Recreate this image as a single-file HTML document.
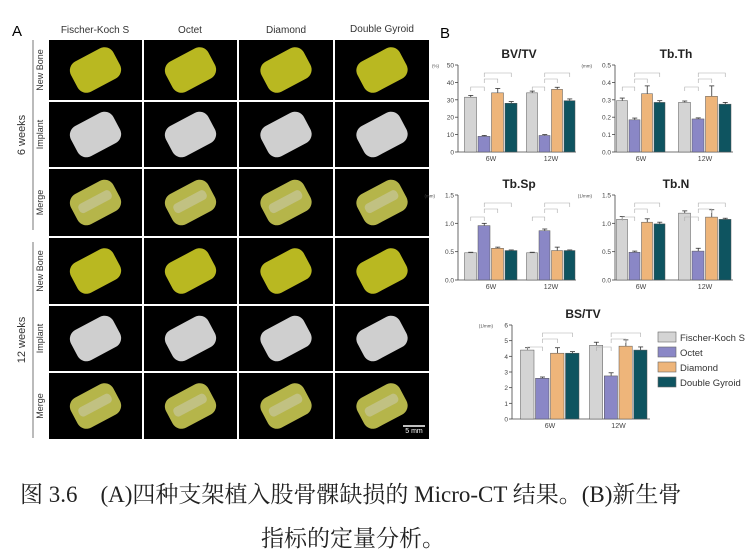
<!DOCTYPE html>
<html><head><meta charset="utf-8"><style>
body{margin:0;background:#fff;width:755px;height:560px;overflow:hidden}
svg{display:block;font-family:"Liberation Sans",Arial,sans-serif}
.cap{position:absolute;font-family:"Liberation Serif","Noto Serif CJK SC",serif;font-size:23px;color:#222;white-space:nowrap}
</style></head><body>
<svg id="s" width="755" height="560" xmlns="http://www.w3.org/2000/svg">
<text x="12" y="36" font-size="15">A</text>
<text x="440" y="38" font-size="15">B</text>
<text x="95" y="33" font-size="10" text-anchor="middle" fill="#333">Fischer-Koch S</text>
<text x="190" y="33" font-size="10" text-anchor="middle" fill="#333">Octet</text>
<text x="286" y="33" font-size="10" text-anchor="middle" fill="#333">Diamond</text>
<text x="382" y="32" font-size="10" text-anchor="middle" fill="#333">Double Gyroid</text>
<line x1="33" y1="40" x2="33" y2="230" stroke="#777"/>
<line x1="33" y1="242" x2="33" y2="438" stroke="#777"/>
<text transform="translate(25,135) rotate(-90)" font-size="11" text-anchor="middle" fill="#333">6 weeks</text>
<text transform="translate(25,340) rotate(-90)" font-size="11" text-anchor="middle" fill="#333">12 weeks</text>
<g id="grid"></g>
<text x="414" y="433" font-size="7" fill="#fff" text-anchor="middle">5 mm</text>
<line x1="403" y1="426" x2="425" y2="426" stroke="#fff" stroke-width="1.5"/>
<g id="charts"></g>
<g font-size="9.5" fill="#333">
<rect x="658" y="332" width="18" height="10" fill="#d4d4d4" stroke="#666" stroke-width=".6"/><text x="680" y="341">Fischer-Koch S</text>
<rect x="658" y="347" width="18" height="10" fill="#8a87c6" stroke="#666" stroke-width=".6"/><text x="680" y="356">Octet</text>
<rect x="658" y="362" width="18" height="10" fill="#eeb57a" stroke="#666" stroke-width=".6"/><text x="680" y="371">Diamond</text>
<rect x="658" y="377" width="18" height="10" fill="#0e5460" stroke="#666" stroke-width=".6"/><text x="680" y="386">Double Gyroid</text>
</g>
</svg>
<div class="cap" style="left:20px;top:476px">图 3.6&nbsp;&nbsp;&nbsp;&nbsp;(A)四种支架植入股骨髁缺损的 Micro-CT 结果。(B)新生骨</div>
<div class="cap" style="left:261px;top:520px">指标的定量分析。</div>
<script>
const NS="http://www.w3.org/2000/svg";
function el(p,t,a,txt){const e=document.createElementNS(NS,t);for(const k in a)e.setAttribute(k,a[k]);if(txt!==undefined)e.textContent=txt;p.appendChild(e);return e;}
const g=document.getElementById("grid");
const cx=[48,143,238,334,430], ry=[39,101,168,237,305,372,440];
const rowL=["New Bone","Implant","Merge","New Bone","Implant","Merge"];
const fills=["#b9b821","#cfcfcf","#b5b54a"];
for(let r=0;r<6;r++){
  el(g,"text",{transform:`translate(43,${(ry[r]+ry[r+1])/2}) rotate(-90)`,"font-size":9,"text-anchor":"middle",fill:"#333"},rowL[r]);
  for(let c=0;c<4;c++){
    const x=cx[c]+1,y=ry[r]+1,w=cx[c+1]-cx[c]-2,h=ry[r+1]-ry[r]-2;
    el(g,"rect",{x,y,width:w,height:h,fill:"#000"});
    const mx=x+w/2,my=y+h/2;
    el(g,"rect",{x:mx-24,y:my-17,width:48,height:34,rx:10,fill:fills[r%3],transform:`rotate(-28 ${mx} ${my})`});
    if(r%3==2)el(g,"rect",{x:mx-18,y:my-6,width:36,height:10,rx:4,fill:"#c9c9a8",opacity:.6,transform:`rotate(-28 ${mx} ${my})`});
  }
}
const C=document.getElementById("charts");
const cols=["#d4d4d4","#8a87c6","#eeb57a","#0e5460"];
function chart(o){
  const {ax,xe,yt,yb,max,step,dec,vals,errs,title,unit,g1,g2}=o;
  const sy=v=>yb-(v/max)*(yb-yt);
  el(C,"text",{x:(ax+xe)/2+2,y:yt-7,"font-size":12,"font-weight":"bold","text-anchor":"middle",fill:"#222"},title);
  el(C,"line",{x1:ax,y1:yt,x2:ax,y2:yb,stroke:"#444","stroke-width":.8});
  el(C,"line",{x1:ax,y1:yb,x2:xe,y2:yb,stroke:"#444","stroke-width":.8});
  for(let v=0;v<=max+1e-9;v+=step){
    const y=sy(v);
    el(C,"line",{x1:ax-3,y1:y,x2:ax,y2:y,stroke:"#444","stroke-width":.8});
    el(C,"text",{x:ax-4,y:y+2.5,"font-size":6.5,"text-anchor":"end",fill:"#444"},v.toFixed(dec));
  }
  el(C,"text",{x:ax-19-(dec?4:0),y:yt+2.5,"font-size":4.5,"text-anchor":"end",fill:"#444"},unit);
  [g1,g2].forEach((gr,i)=>{
    const bw=(gr[1]-gr[0])/4;
    vals[i].forEach((v,j)=>{
      const x=gr[0]+j*bw+.5, y=sy(v), e=sy(v+errs[i][j]);
      el(C,"line",{x1:x+bw/2-.5,y1:y,x2:x+bw/2-.5,y2:e,stroke:"#333","stroke-width":.8});
      el(C,"line",{x1:x+bw/2-3,y1:e,x2:x+bw/2+2,y2:e,stroke:"#333","stroke-width":.8});
      el(C,"rect",{x,y,width:bw-1.5,height:yb-y,fill:cols[j],stroke:"#555","stroke-width":.5});
    });
    el(C,"text",{x:(gr[0]+gr[1])/2,y:yb+9,"font-size":7,"text-anchor":"middle",fill:"#444"},i?"12W":"6W");
    const t=yt+4;
    el(C,"path",{d:`M${gr[0]+bw*0.5} ${t+22} V${t+18} H${gr[0]+bw*1.5} V${t+22}`,fill:"none",stroke:"#aaa","stroke-width":.6});
    el(C,"path",{d:`M${gr[0]+bw*1.5} ${t+14} V${t+10} H${gr[0]+bw*2.5} V${t+14}`,fill:"none",stroke:"#aaa","stroke-width":.6});
    el(C,"path",{d:`M${gr[0]+bw*1.5} ${t+8} V${t+4} H${gr[0]+bw*3.5} V${t+8}`,fill:"none",stroke:"#aaa","stroke-width":.6});
  });
}
chart({ax:458,xe:576,yt:65,yb:152,max:50,step:10,dec:0,title:"BV/TV",unit:"(%)",g1:[464,518],g2:[526,576],
 vals:[[31.5,9,34,28],[34,9.5,36,29.5]],errs:[[1,.5,2.5,1],[1,.5,1.2,1]]});
chart({ax:615,xe:733,yt:65,yb:152,max:.5,step:.1,dec:1,title:"Tb.Th",unit:"(mm)",g1:[616,666],g2:[678,732],
 vals:[[.295,.185,.335,.285],[.285,.19,.32,.275]],errs:[[.015,.01,.045,.01],[.008,.006,.06,.01]]});
chart({ax:458,xe:576,yt:195,yb:280,max:1.5,step:.5,dec:1,title:"Tb.Sp",unit:"(mm)",g1:[464,518],g2:[526,576],
 vals:[[.48,.96,.56,.52],[.48,.87,.52,.52]],errs:[[.01,.04,.02,.01],[.01,.03,.06,.01]]});
chart({ax:615,xe:733,yt:195,yb:280,max:1.5,step:.5,dec:1,title:"Tb.N",unit:"(1/mm)",g1:[616,666],g2:[678,732],
 vals:[[1.07,.49,1.02,.99],[1.18,.51,1.11,1.07]],errs:[[.05,.02,.06,.03],[.04,.05,.13,.02]]});
chart({ax:512,xe:650,yt:325,yb:419,max:6,step:1,dec:0,title:"BS/TV",unit:"(1/mm)",g1:[520,580],g2:[589,648],
 vals:[[4.4,2.6,4.2,4.2],[4.7,2.75,4.65,4.4]],errs:[[.15,.08,.35,.1],[.2,.2,.4,.2]]});
</script>
</body></html>
